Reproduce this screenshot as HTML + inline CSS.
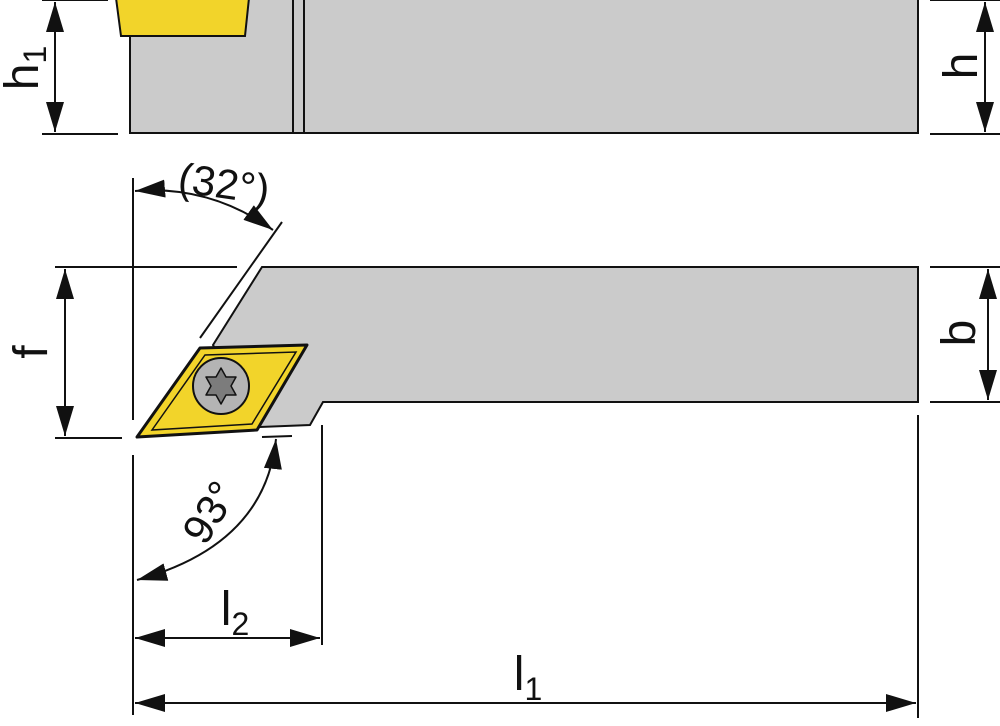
<!DOCTYPE html>
<html><head><meta charset="utf-8"><style>html,body{margin:0;padding:0;background:#fff}svg{display:block}text{font-family:"Liberation Sans",sans-serif;fill:#111}</style></head><body>
<svg width="1000" height="726" viewBox="0 0 1000 726" xmlns="http://www.w3.org/2000/svg">
<defs>
<marker id="b" viewBox="0 0 30 18" refX="30" refY="9" markerWidth="30" markerHeight="18" markerUnits="userSpaceOnUse" orient="auto-start-reverse"><path d="M0,0L30,9L0,18Z" fill="#111"/></marker>
</defs>
<g stroke="#111" stroke-width="2">
<rect x="130" y="-2" width="788" height="135" fill="#cbcbcb"/>
<line x1="293" y1="0" x2="293" y2="133"/><line x1="304" y1="0" x2="304" y2="133"/>
<polygon points="116,-2 249,-2 245,36 121,36" fill="#f2d42a"/>
<line x1="42" y1="0" x2="108" y2="0"/><line x1="42" y1="134" x2="118" y2="134"/>
<line x1="55" y1="2" x2="55" y2="132" marker-start="url(#b)" marker-end="url(#b)"/>
<line x1="930" y1="0" x2="1000" y2="0"/><line x1="930" y1="134" x2="1000" y2="134"/>
<line x1="985" y1="2" x2="985" y2="132" marker-start="url(#b)" marker-end="url(#b)"/>
<polygon points="262,267 918,267 918,402 323,402 310,425 260,427 213,345" fill="#cbcbcb"/>
<polygon points="137,437 200,348 307,345 257,430" fill="#f2d42a" stroke-linejoin="round" stroke-width="3"/>
<polygon points="152,430 205,355 296,352 252,424" fill="none" stroke-width="1.5"/>
<circle cx="221" cy="386" r="28" fill="#b4b4b4"/>
<path d="M221,368 L226,377 L236,377 L231,386 L236,395 L226,395 L221,404 L216,395 L206,395 L211,386 L206,377 L216,377Z" fill="#7c7c7c" stroke-width="1.5" stroke-linejoin="round"/>
<line x1="133" y1="178" x2="133" y2="420"/><line x1="133" y1="455" x2="133" y2="715"/>
<line x1="55" y1="267" x2="237" y2="267"/><line x1="55" y1="438" x2="122" y2="438"/>
<line x1="65" y1="269" x2="65" y2="436" marker-start="url(#b)" marker-end="url(#b)"/>
<line x1="930" y1="267" x2="1000" y2="267"/><line x1="930" y1="402" x2="1000" y2="402"/>
<line x1="988" y1="269" x2="988" y2="400" marker-start="url(#b)" marker-end="url(#b)"/>
<line x1="200" y1="338" x2="282" y2="222"/>
<path d="M135,191 Q210,185 273,230" fill="none" marker-start="url(#b)" marker-end="url(#b)"/>
<line x1="262" y1="437" x2="292" y2="436"/>
<path d="M276,439 Q265,545 137,580" fill="none" marker-start="url(#b)" marker-end="url(#b)"/>
<line x1="322" y1="425" x2="322" y2="645"/>
<line x1="135" y1="638" x2="320" y2="638" marker-start="url(#b)" marker-end="url(#b)"/>
<line x1="918" y1="415" x2="918" y2="718"/>
<line x1="135" y1="703" x2="916" y2="703" marker-start="url(#b)" marker-end="url(#b)"/>
</g>
<text transform="translate(38,68) rotate(-90)" font-size="48" text-anchor="middle">h<tspan font-size="32" dy="8">1</tspan></text>
<text transform="translate(977,66) rotate(-90)" font-size="48" text-anchor="middle">h</text>
<text transform="translate(47,352) rotate(-90)" font-size="48" text-anchor="middle">f</text>
<text transform="translate(975,333) rotate(-90)" font-size="48" text-anchor="middle">b</text>
<text transform="translate(222,198) rotate(8)" font-size="42" text-anchor="middle">(32°)</text>
<text transform="translate(222,520) rotate(-58)" font-size="42" text-anchor="middle">93°</text>
<text x="235" y="625" font-size="48" text-anchor="middle">l<tspan font-size="32" dy="10">2</tspan></text>
<text x="528" y="690" font-size="48" text-anchor="middle">l<tspan font-size="32" dy="10">1</tspan></text>
</svg>
</body></html>
